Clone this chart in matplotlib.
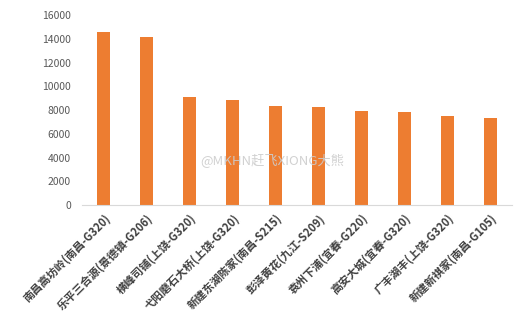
import numpy as np
import matplotlib.pyplot as plt

plt.rcParams['font.family'] = ['Noto Sans CJK SC', 'DejaVu Sans']

# ── Datos ─────────────────────────────────────────────
estaciones = [
    "南昌高坊岭(南昌-G320)",
    "乐平三合源(景德镇-G206)",
    "横峰司铺(上饶-G320)",
    "弋阳磨石大桥(上饶-G320)",
    "新建东湖陈家(南昌-S215)",
    "彭泽黄花(九江-S209)",
    "袁州下浦(宜春-G220)",
    "高安大城(宜春-G320)",
    "广丰湖丰(上饶-G320)",
    "新建新祺家(南昌-G105)",
]
valores = [14550, 14150, 9100, 8880, 8350, 8250, 7950, 7830, 7500, 7330]
y_ticks = [0, 2000, 4000, 6000, 8000, 10000, 12000, 14000, 16000]

fig = plt.figure(figsize=(5.26, 3.26), dpi=100)
ax = fig.add_axes([0.156, 0.371, 0.817, 0.583])

x = np.arange(len(estaciones))
ax.bar(x, valores, width=0.3, color='#ED7D31')

ax.set_xlim(-0.5, len(estaciones) - 0.5)
ax.set_ylim(0, 16000)
ax.set_yticks(y_ticks)
ax.set_yticklabels([str(v) for v in y_ticks], fontsize=7.5, color='#595959')
ax.set_xticks(x)
ax.set_xticklabels(estaciones, rotation=45, ha='right', rotation_mode='anchor',
                   fontsize=8, color='#404040', fontweight='bold')
ax.tick_params(axis='both', length=0)
ax.tick_params(axis='y', pad=8)
ax.tick_params(axis='x', pad=5)
for lbl in ax.get_xticklabels():
    lbl.set_x(lbl.get_position()[0])

for lado in ['top', 'right', 'left']:
    ax.spines[lado].set_visible(False)
ax.spines['bottom'].set_color('#d9d9d9')

# marca de agua
fig.text(0.38, 0.505, '@MKHN赶飞XIONG大熊', fontsize=9.5, color='#cccccc',
         alpha=0.9, ha='left', va='center')

plt.savefig('out.png', dpi=100)
